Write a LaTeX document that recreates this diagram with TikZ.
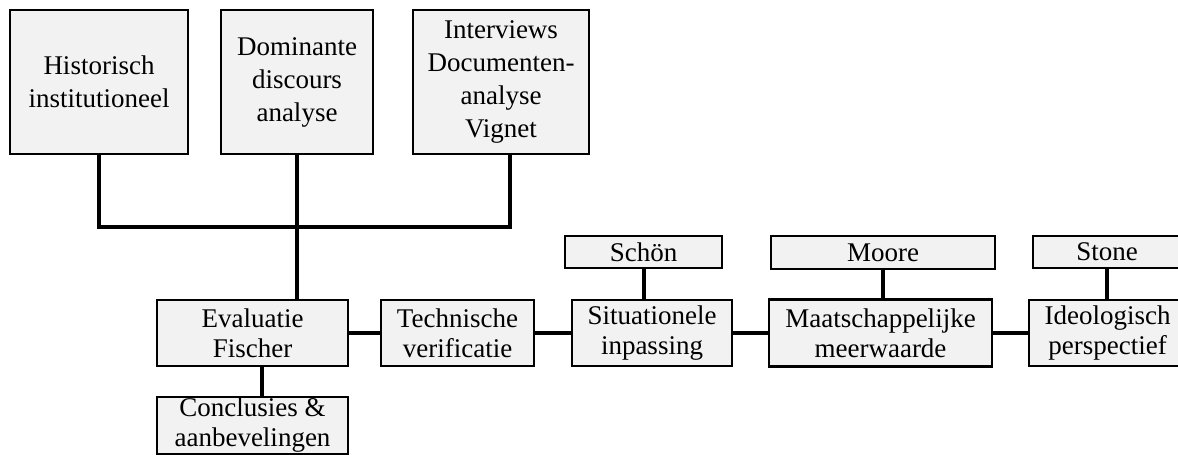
\documentclass[tikz,border=0pt]{standalone}
\usepackage{fontspec}
\setmainfont{Liberation Serif}
\definecolor{boxfill}{HTML}{F2F2F2}
\tikzset{
  box/.style={draw=black, fill=boxfill, line width=2.5pt, align=center, inner sep=0pt,
    font=\fontsize{27}{30}\selectfont},
  topbox/.style={box, minimum height=144pt, font=\fontsize{27}{33}\selectfont},
  link/.style={line width=4pt, draw=black}
}
\begin{document}
\begin{tikzpicture}[x=1pt,y=-1pt]
\useasboundingbox (0,0) rectangle (1178,455);
\clip (0,0) rectangle (1178,455);
% top boxes
\node[topbox, minimum width=178pt] (hist) at (99,82) {Historisch\\institutioneel};
\node[topbox, minimum width=152pt] (dom) at (297,82) {Dominante\\discours\\analyse};
\node[topbox, minimum width=176pt] (intv) at (501,82) {Interviews\\Documenten-\\analyse\\Vignet};
% main row
\node[box, minimum width=191pt, minimum height=66pt] (eval) at (252.5,333) {Evaluatie\\Fischer};
\node[box, minimum width=153pt, minimum height=66pt] (tech) at (457.5,333) {Technische\\verificatie};
\node[box, minimum width=160pt, minimum height=66pt] (sit) at (652,333) {Situationele\\inpassing};
\node[box, minimum width=223pt, minimum height=67pt] (maat) at (880.5,333) {Maatschappelijke\\meerwaarde};
\node[box, minimum width=157pt, minimum height=66pt] (ideo) at (1107.5,333) {Ideologisch\\perspectief};
% small top boxes
\node[box, minimum width=157pt, minimum height=32pt] (schon) at (643.5,252) {Schön};
\node[box, minimum width=224pt, minimum height=33pt] (moore) at (883,252.5) {Moore};
\node[box, minimum width=148pt, minimum height=32pt] (stone) at (1107,252) {Stone};
% bottom
\node[box, minimum width=191pt, minimum height=57pt] (concl) at (252.5,425.5) {Conclusies \&\\aanbevelingen};
% connectors
\coordinate (bus) at (297,227);
\draw[link] (hist.south) |- (bus);
\draw[link] ([xshift=9pt]intv.south) |- (bus);
\draw[link] (dom.south) -- (dom.south |- eval.north);
\draw[link] (eval.east) -- (tech.west);
\draw[link] (tech.east) -- (sit.west);
\draw[link] (sit.east) -- (maat.west);
\draw[link] (maat.east) -- (ideo.west);
\draw[link] (schon.south) -- (schon.south |- sit.north);
\draw[link] (moore.south) -- (moore.south |- maat.north);
\draw[link] (stone.south) -- (stone.south |- ideo.north);
\draw[link] ([xshift=9pt]eval.south) -- ([xshift=9pt]eval.south |- concl.north);
\end{tikzpicture}
\end{document}
